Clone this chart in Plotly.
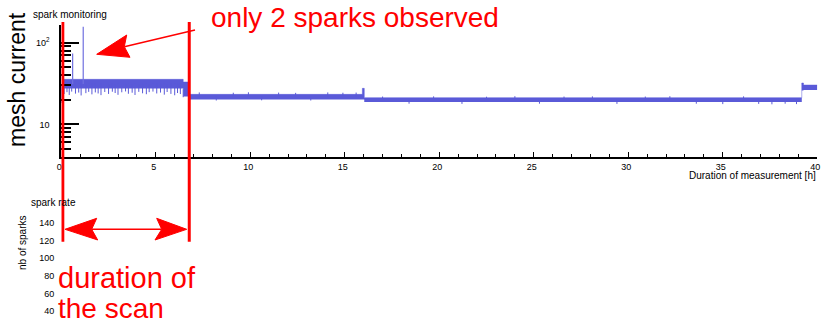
import plotly.graph_objects as go

W, H = 821, 323

# ---------------- data ----------------
# mesh-current envelope, step-wise (hours, value at start of each step)
band_t  = [0.0, 0.07, 6.45, 6.72, 15.93, 16.03, 39.18, 39.27, 40.0]
band_hi = [30.0, 35.6, 33.0, 23.3, 27.6, 21.2, 32.1, 30.3, 30.3]
band_lo = [18.2, 27.4, 22.0, 20.1, 20.1, 18.8, 26.0, 26.4, 26.4]

# downward dips of the current during the scan
dip_t = [0.15, 0.3, 0.42, 0.55, 0.75, 0.92, 1.05, 1.3, 1.45, 1.62, 1.8, 1.95,
         2.1, 2.3, 2.5, 2.7, 2.85, 3.0, 3.2, 3.4, 3.55, 3.75, 3.9, 4.1, 4.3,
         4.5, 4.65, 4.85, 5.05, 5.25, 5.45, 5.6, 5.8, 6.0, 6.15, 6.3, 6.45]
dip_v = [23.5, 24.8, 22.9, 25.2, 23.8, 24.5, 22.6, 24.1, 25.0, 23.3, 24.6, 23.9,
         22.8, 24.9, 23.6, 25.1, 24.2, 23.0, 24.7, 25.3, 23.7, 24.4, 22.9, 25.0,
         24.0, 23.4, 24.8, 25.2, 23.9, 24.5, 23.1, 24.9, 23.6, 22.7, 24.2, 23.5, 21.5]

# small fluctuations after the scan
fluct_t = [7.3, 8.2, 9.1, 9.9, 10.6, 11.5, 12.4, 13.2, 14.1, 14.9, 15.6,
           17.0, 18.4, 19.7, 21.2, 22.5, 24.0, 25.3, 26.6, 28.1, 29.4, 30.9,
           32.2, 33.6, 35.0, 36.1, 36.9, 37.6, 38.3, 38.9]
fluct_v = [24.6, 19.6, 24.4, 24.7, 19.7, 24.5, 24.3, 19.6, 24.6, 24.4, 24.5,
           21.9, 17.9, 22.0, 17.8, 21.8, 22.1, 17.9, 21.9, 22.0, 17.8, 21.9,
           22.1, 17.9, 17.7, 22.0, 17.8, 17.6, 17.9, 17.7]

# the two sparks
spark_t = [0.60, 1.16]
spark_v = [74.0, 157.0]

# scan boundaries (hours)
scan_bounds = [0.08, 6.77]

x_ticks = [0, 5, 10, 15, 20, 25, 30, 35, 40]
y_ticks = [10, 100]
y_ticktext = ["10", "10<sup>2</sup>"]
y_minor = [5, 6, 7, 8, 9, 20, 30, 40, 50, 60, 70, 80, 90]
rate_ticks = [40, 60, 80, 100, 120, 140]

BLUE = "#5a5ad8"
RED = "#ff0000"
FONT = "Liberation Sans"


def px(x):
    return x / W


def py(y):
    return 1 - y / H


def band_mid(t):
    i = 0
    for k in range(len(band_t) - 1):
        if band_t[k] <= t:
            i = k
    return (band_hi[i] * band_lo[i]) ** 0.5


def segs(ts, vs):
    xs, ys = [], []
    for t, v in zip(ts, vs):
        xs += [t, t, None]
        ys += [band_mid(t), v, None]
    return xs, ys


fig = go.Figure()

fig.add_trace(go.Scatter(x=band_t, y=band_lo, mode="lines", line=dict(width=0, color=BLUE, shape="hv"),
                         hoverinfo="skip", showlegend=False))
fig.add_trace(go.Scatter(x=band_t, y=band_hi, mode="lines", line=dict(width=0.5, color=BLUE, shape="hv"),
                         fill="tonexty", fillcolor=BLUE, hoverinfo="skip", showlegend=False))

dx, dy = segs(dip_t, dip_v)
fig.add_trace(go.Scatter(x=dx, y=dy, mode="lines", line=dict(width=1, color=BLUE), showlegend=False))
fx, fy = segs(fluct_t, fluct_v)
fig.add_trace(go.Scatter(x=fx, y=fy, mode="lines", line=dict(width=1, color=BLUE), showlegend=False))
sx, sy = segs(spark_t, spark_v)
fig.add_trace(go.Scatter(x=sx, y=sy, mode="lines", line=dict(width=1.2, color="#7070e0"), showlegend=False))

# empty spark-rate panel
fig.add_trace(go.Scatter(x=[0], y=[None], xaxis="x2", yaxis="y2", mode="lines", showlegend=False))

xdom = [px(61.3), px(817.3)]
fig.update_layout(
    width=W, height=H,
    margin=dict(l=0, r=0, t=0, b=0),
    paper_bgcolor="white", plot_bgcolor="rgba(0,0,0,0)",
    showlegend=False,
    font=dict(family=FONT, color="black", size=9),
    xaxis=dict(domain=xdom, range=[0, 40.001], anchor="y", showgrid=False, zeroline=False,
               showline=True, linecolor="black", linewidth=1.5,
               tickvals=x_ticks, ticks="inside", ticklen=5, tickwidth=1, tickcolor="black",
               minor=dict(dtick=1, ticks="inside", ticklen=3, tickcolor="black"),
               ticklabelshift=-2, ticklabeloverflow="allow",
               tickfont=dict(size=9, family=FONT), automargin=False),
    yaxis=dict(domain=[py(157), py(25)], type="log", range=[0.6, 2.217], anchor="x",
               showgrid=False, zeroline=False, showline=True, linecolor="black", linewidth=2,
               tickvals=y_ticks, ticktext=y_ticktext, ticks="inside", ticklen=18, tickwidth=1.5,
               tickcolor="black", ticklabelstandoff=8,
               minor=dict(tickvals=y_minor, ticks="inside", ticklen=10, tickcolor="black"),
               tickfont=dict(size=9, family=FONT), automargin=False),
    xaxis2=dict(domain=xdom, range=[0, 40], anchor="y2", visible=False),
    yaxis2=dict(domain=[0, py(205)], range=[26.4, 160.5], anchor="x2", showgrid=False,
                zeroline=False, showline=False, ticks="", tickvals=rate_ticks,
                ticklabelstandoff=6, tickfont=dict(size=9, family=FONT), automargin=False),
)

shapes = []
for xb in scan_bounds:
    shapes.append(dict(type="line", xref="x", yref="paper", x0=xb, x1=xb,
                       y0=py(241.7), y1=py(22), line=dict(color=RED, width=3)))


def path(pts, close=True):
    s = "M " + " L ".join(f"{px(a):.5f},{py(b):.5f}" for a, b in pts)
    return s + (" Z" if close else "")


shapes.append(dict(type="path", xref="paper", yref="paper",
                   path=path([(195, 30), (124.3, 46.7)], close=False),
                   line=dict(color=RED, width=1.5)))
shapes.append(dict(type="path", xref="paper", yref="paper",
                   path=path([(96.7, 54.3), (126.7, 35), (124.3, 46.7), (130, 57.3)]),
                   line=dict(color=RED, width=1), fillcolor=RED))
shapes.append(dict(type="path", xref="paper", yref="paper",
                   path=path([(91.7, 229.3), (161.7, 229.3)], close=False),
                   line=dict(color=RED, width=1.5)))
shapes.append(dict(type="path", xref="paper", yref="paper",
                   path=path([(65, 229.3), (96.7, 218.3), (91.7, 229.3), (97.7, 240)]),
                   line=dict(color=RED, width=1), fillcolor=RED))
shapes.append(dict(type="path", xref="paper", yref="paper",
                   path=path([(186.7, 229.3), (156.7, 218.3), (161.7, 229.3), (155, 240)]),
                   line=dict(color=RED, width=1), fillcolor=RED))
fig.update_layout(shapes=shapes)


def ann(text, x, y, size, color="black", xanchor="left", angle=0):
    return dict(text=text, x=px(x), y=py(y), xref="paper", yref="paper", showarrow=False,
                xanchor=xanchor, yanchor="middle", textangle=angle,
                font=dict(family=FONT, size=size, color=color))


fig.update_layout(annotations=[
    ann("only 2 sparks observed", 209, 18, 28, RED),
    ann("duration of", 56, 278, 29, RED),
    ann("the scan", 56, 308, 28, RED),
    ann("mesh current", 17, 80, 23, angle=-90, xanchor="center"),
    ann("spark monitoring", 31, 14, 10),
    ann("Duration of measurement [h]", 818, 175, 10, xanchor="right"),
    ann("spark rate", 29, 202, 10),
    ann("nb of sparks", 22, 243, 10, angle=-90, xanchor="center"),
])

fig.write_html("out.html")
